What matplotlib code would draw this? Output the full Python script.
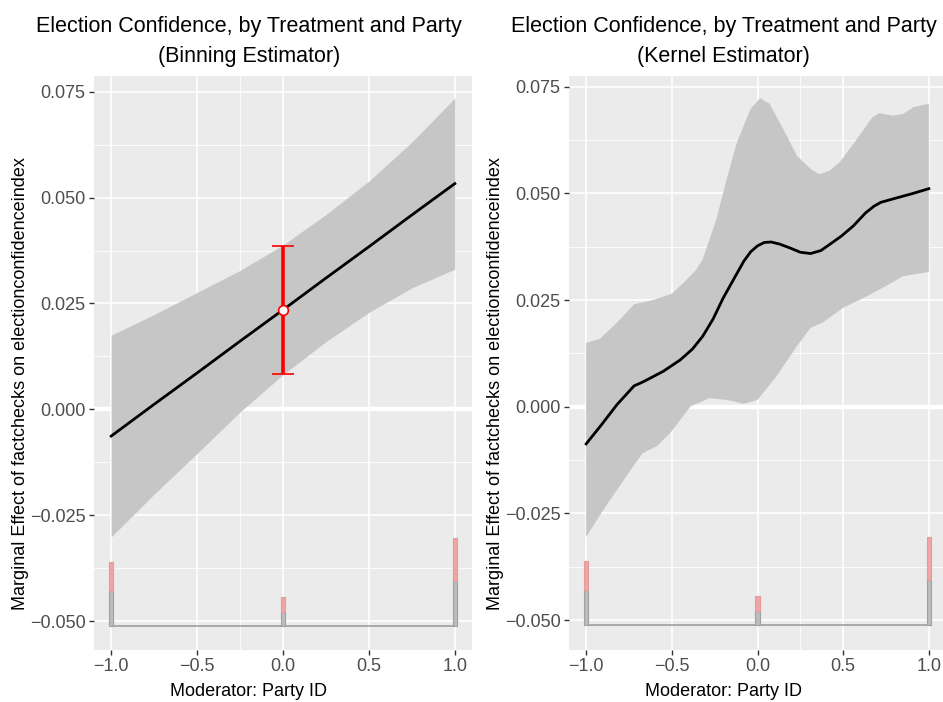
import numpy as np
import matplotlib
matplotlib.use("Agg")
import matplotlib.pyplot as plt

plt.rcParams['font.family'] = ['Liberation Sans', 'DejaVu Sans']

# ---- data ----
title1 = "Election Confidence, by Treatment and Party\n(Binning Estimator)"
title2 = "Election Confidence, by Treatment and Party\n(Kernel Estimator)"
xlab = "Moderator: Party ID"
ylab = "Marginal Effect of factchecks on electionconfidenceindex"

xticks = [-1.0, -0.5, 0.0, 0.5, 1.0]
xtick_labels = ["\u22121.0", "\u22120.5", "0.0", "0.5", "1.0"]
yticks = [-0.050, -0.025, 0.000, 0.025, 0.050, 0.075]
ytick_labels = ["\u22120.050", "\u22120.025", "0.000", "0.025", "0.050", "0.075"]

# binning estimator (linear fit + CI)
bin_x = [-1.0, -0.75, -0.5, -0.25, 0.0, 0.25, 0.5, 0.75, 1.0]
bin_fit = [-0.0063, 0.0012, 0.0086, 0.0161, 0.0235, 0.0310, 0.0384, 0.0459, 0.0533]
bin_upper = [0.0175, 0.0224, 0.0276, 0.0328, 0.0388, 0.0460, 0.0539, 0.0631, 0.0735]
bin_lower = [-0.0301, -0.0200, -0.0104, -0.0006, 0.0082, 0.0160, 0.0229, 0.0287, 0.0331]

# bin estimate at x=0
bin_pt_x = [0.0]
bin_pt_y = [0.0235]
bin_pt_lo = [0.0083]
bin_pt_hi = [0.0385]

# kernel estimator
ker_x = [-1.0, -0.91, -0.82, -0.72, -0.68, -0.65, -0.55, -0.45, -0.38, -0.32, -0.26,
         -0.2, -0.14, -0.08, -0.04, 0.0, 0.04, 0.08, 0.13, 0.19, 0.25, 0.31, 0.37,
         0.42, 0.49, 0.56, 0.63, 0.68, 0.72, 0.8, 0.9, 1.0]
ker_y = [-0.0087, -0.0042, 0.0005, 0.0049, 0.0056, 0.0062, 0.0083, 0.0110, 0.0135,
         0.0165, 0.0205, 0.0255, 0.0298, 0.0341, 0.0363, 0.0377, 0.0385, 0.0386,
         0.0381, 0.0372, 0.0362, 0.0359, 0.0366, 0.0380, 0.0400, 0.0424, 0.0454,
         0.0470, 0.0479, 0.0488, 0.0499, 0.0511]
ker_up_x = [-1.0, -0.92, -0.82, -0.72, -0.6, -0.5, -0.43, -0.36, -0.32, -0.24, -0.18,
            -0.12, -0.04, 0.015, 0.07, 0.15, 0.23, 0.31, 0.36, 0.42, 0.48, 0.58,
            0.67, 0.71, 0.79, 0.85, 0.91, 1.0]
ker_up_y = [0.0150, 0.0159, 0.0197, 0.0240, 0.0251, 0.0265, 0.0291, 0.0320, 0.0345,
            0.0439, 0.0533, 0.0620, 0.0698, 0.0723, 0.0710, 0.0651, 0.0588, 0.0557,
            0.0545, 0.0553, 0.0573, 0.0627, 0.0678, 0.0688, 0.0682, 0.0686, 0.0702,
            0.0710]
ker_lo_x = [-1.0, -0.9, -0.74, -0.67, -0.59, -0.51, -0.39, -0.28, -0.18, -0.08, 0.0,
            0.11, 0.23, 0.31, 0.38, 0.5, 0.62, 0.75, 0.85, 1.0]
ker_lo_y = [-0.0305, -0.0242, -0.0148, -0.0109, -0.0093, -0.0062, 0.0001, 0.0020,
            0.0016, 0.0007, 0.0016, 0.0071, 0.0142, 0.0185, 0.0197, 0.0232, 0.0255,
            0.0283, 0.0306, 0.0316]

# moderator histogram (control grey, treated red stacked on top)
hist_x = [-1.0, 0.0, 1.0]
ctrl_n = [35, 14, 45]
treat_n = [29, 15, 43]
hist_base = -0.0512
hist_scale = 0.000236

# ---- drawing ----
fig = plt.figure(figsize=(9.43, 7.02), dpi=100)
ax1 = fig.add_axes([94 / 943, 1 - 650 / 702, 378 / 943, 574 / 702])
ax2 = fig.add_axes([569 / 943, 1 - 650 / 702, 377 / 943, 574 / 702])

panel_bg = "#EBEBEB"
band_col = "#C6C6C6"


def style(ax, ylim, minor_x, title, tx):
    ax.set_facecolor(panel_bg)
    for s in ax.spines.values():
        s.set_visible(False)
    ax.set_xlim(-1.1, 1.1)
    ax.set_ylim(*ylim)
    for yv in [-0.0375, -0.0125, 0.0125, 0.0375, 0.0625]:
        ax.axhline(yv, color="white", lw=0.6, zorder=0.5)
    for xv in minor_x:
        ax.axvline(xv, color="white", lw=0.6, zorder=0.5)
    for yv in yticks:
        ax.axhline(yv, color="white", lw=1.2, zorder=0.6)
    for xv in xticks:
        ax.axvline(xv, color="white", lw=1.2, zorder=0.6)
    ax.axhline(0, color="white", lw=3.2, zorder=0.7)
    ax.set_xticks(xticks)
    ax.set_xticklabels(xtick_labels)
    ax.set_yticks(yticks)
    ax.set_yticklabels(ytick_labels)
    ax.tick_params(colors="#333333", labelcolor="#4D4D4D", labelsize=13,
                   length=3.5, width=1, pad=2.5)
    ax.set_xlabel(xlab, fontsize=13)
    ax.xaxis.set_label_coords(tx, -0.058)
    ax.set_ylabel(ylab, fontsize=13)
    ax.yaxis.set_label_coords(-0.172, 0.465)
    ax.set_title(title, fontsize=15.5, linespacing=1.55, pad=10, x=tx)


def histo(ax):
    ax.hlines(hist_base, -1.0, 1.0, color="#9E9E9E", lw=1.2, zorder=2)
    c = np.array(ctrl_n) * hist_scale
    t = np.array(treat_n) * hist_scale
    ax.bar(hist_x, c, width=0.024, bottom=hist_base, color="#BDBDBD",
           edgecolor="#A0A0A0", lw=0.8, zorder=3)
    ax.bar(hist_x, t, width=0.024, bottom=hist_base + c, color="#F2A5A5",
           edgecolor="#E59A9A", lw=0.8, zorder=3)


style(ax1, (-0.0568, 0.0787), [-0.25], title1, 0.41)
ax1.fill_between(bin_x, bin_lower, bin_upper, color=band_col, lw=0, zorder=1)
ax1.plot(bin_x, bin_fit, color="black", lw=2, zorder=4)
ax1.errorbar(bin_pt_x, bin_pt_y,
             yerr=[np.array(bin_pt_y) - np.array(bin_pt_lo), np.array(bin_pt_hi) - np.array(bin_pt_y)],
             fmt="o", color="red", ecolor="red", elinewidth=2.6, capsize=8, capthick=2.6,
             mfc="white", mec="red", ms=7, mew=1.2, zorder=5)
histo(ax1)

style(ax2, (-0.0570, 0.0775), [0.25], title2, 0.41)
ax2.fill(np.concatenate([ker_up_x, ker_lo_x[::-1]]),
         np.concatenate([ker_up_y, ker_lo_y[::-1]]),
         color=band_col, lw=0, zorder=1)
ax2.plot(ker_x, ker_y, color="black", lw=2, zorder=4)
histo(ax2)

fig.savefig("out.png", dpi=100)
